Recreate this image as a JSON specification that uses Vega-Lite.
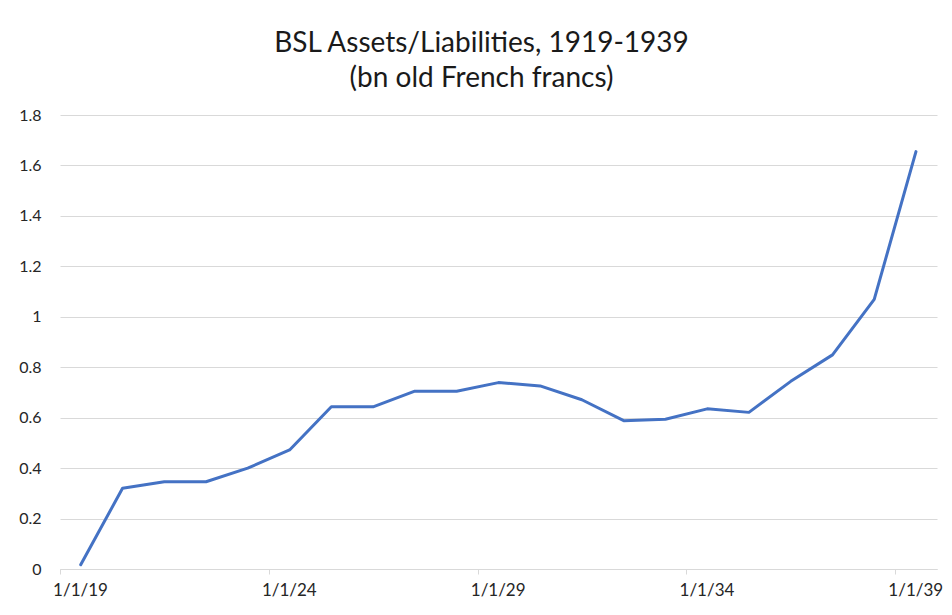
{
  "$schema": "https://vega.github.io/schema/vega-lite/v6.json",
  "width": 877,
  "height": 454,
  "autosize": "none",
  "padding": {"left": 60, "top": 115, "right": 15, "bottom": 46},
  "background": "white",
  "title": {
    "text": ["BSL Assets/Liabilities, 1919-1939", "(bn old French francs)"],
    "anchor": "middle",
    "frame": "group",
    "dx": -17,
    "offset": 14,
    "font": "Lato",
    "fontSize": 28,
    "fontWeight": "normal",
    "lineHeight": 35,
    "color": "#1a1a1a"
  },
  "data": {
    "values": [
      {"date": "1919/07/01", "value": 0.017},
      {"date": "1920/07/01", "value": 0.32},
      {"date": "1921/07/01", "value": 0.346},
      {"date": "1922/07/01", "value": 0.346},
      {"date": "1923/07/01", "value": 0.40},
      {"date": "1924/07/01", "value": 0.472},
      {"date": "1925/07/01", "value": 0.643},
      {"date": "1926/07/01", "value": 0.643},
      {"date": "1927/07/01", "value": 0.705},
      {"date": "1928/07/01", "value": 0.705},
      {"date": "1929/07/01", "value": 0.739},
      {"date": "1930/07/01", "value": 0.726},
      {"date": "1931/07/01", "value": 0.671},
      {"date": "1932/07/01", "value": 0.588},
      {"date": "1933/07/01", "value": 0.594},
      {"date": "1934/07/01", "value": 0.635},
      {"date": "1935/07/01", "value": 0.621},
      {"date": "1936/07/01", "value": 0.744},
      {"date": "1937/07/01", "value": 0.849},
      {"date": "1938/07/01", "value": 1.069},
      {"date": "1939/07/01", "value": 1.655}
    ]
  },
  "mark": {"type": "line", "color": "#4472C4", "strokeWidth": 3, "strokeCap": "round", "strokeJoin": "round"},
  "encoding": {
    "x": {
      "field": "date",
      "type": "temporal",
      "scale": {
        "domain": [
          {"year": 1919, "month": 1, "date": 1},
          {"year": 1940, "month": 1, "date": 1}
        ]
      },
      "axis": {
        "title": null,
        "values": [
          {"year": 1919, "month": 1, "date": 1},
          {"year": 1924, "month": 1, "date": 1},
          {"year": 1929, "month": 1, "date": 1},
          {"year": 1934, "month": 1, "date": 1},
          {"year": 1939, "month": 1, "date": 1}
        ],
        "format": "%-m/%-d/%y",
        "grid": false,
        "domainColor": "#d9d9d9",
        "domainWidth": 1,
        "tickColor": "#d9d9d9",
        "tickSize": 5,
        "labelOffset": 20,
        "labelPadding": 8,
        "labelFont": "Lato",
        "labelFontSize": 17,
        "labelColor": "#262626",
        "labelFlush": false,
        "labelOverlap": false
      }
    },
    "y": {
      "field": "value",
      "type": "quantitative",
      "scale": {"domain": [0, 1.8], "nice": false, "zero": true},
      "axis": {
        "title": null,
        "values": [0, 0.2, 0.4, 0.6, 0.8, 1, 1.2, 1.4, 1.6, 1.8],
        "format": "~g",
        "domain": false,
        "ticks": false,
        "gridColor": "#d9d9d9",
        "gridWidth": 1,
        "labelPadding": 19,
        "labelFont": "Lato",
        "labelFontSize": 16,
        "labelColor": "#262626"
      }
    }
  },
  "config": {
    "view": {"stroke": null}
  }
}
